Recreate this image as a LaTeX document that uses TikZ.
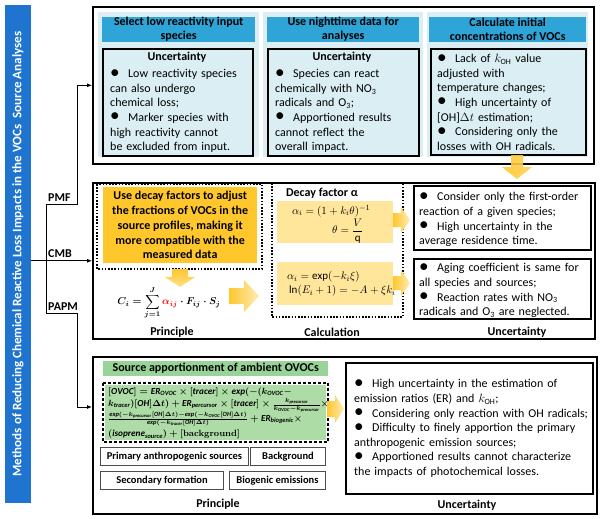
\documentclass[tikz,border=0pt]{standalone}
\usepackage{amsmath}
\usepackage{amssymb}
\usepackage{fontspec}
\setmainfont{Carlito}
\usepackage{tikz}
\usetikzlibrary{calc}
\usetikzlibrary{arrows.meta}
\usepackage{xcolor}

\definecolor{barblue}{HTML}{1E74CF}
\definecolor{paleblue}{HTML}{DAEEF3}
\definecolor{headblue}{HTML}{2FA4D7}
\definecolor{gold}{HTML}{FFC72C}
\definecolor{palegold}{HTML}{FFE69A}
\definecolor{headgreen}{HTML}{98D497}
\definecolor{palegreen}{HTML}{AEDCA6}

\newcommand{\dotitem}[1]{\par\noindent\hangindent=18pt\hangafter=1\makebox[18pt][l]{\smash{\raisebox{-0.4pt}{\scalebox{1.6}{\textbullet}}}}#1}
\newcommand{\vn}[1]{\mathit{#1}}
\newcommand{\decaysum}{$\displaystyle C_i=\sum_{j=1}^{J}\textcolor{red}{\alpha_{ij}}\cdot F_{ij}\cdot S_j$}

\tikzset{
  frame/.style={draw, line width=1.6pt, inner sep=0, anchor=north west},
  plain/.style={inner sep=0, anchor=north west},
  dotframe/.style={draw, line width=1.6pt, dash pattern=on 1.6pt off 1.6pt},
  txt/.style={inner sep=0, anchor=north west, text width=#1, align=left, font=\fontsize{12}{14.6}\selectfont},
  bold/.style={inner sep=0, font=\fontsize{12}{14.6}\selectfont\bfseries},
  eq/.style={inner sep=0, anchor=west, font=\fontsize{11}{13}\selectfont},
  link/.style={line width=0.8pt, -{Latex[length=5pt,width=4pt]}},
  goldshade/.style={left color=gold, right color=gold!35},
  tag/.style={draw=black!70, line width=1pt, fill=white, inner sep=0, anchor=north west, minimum height=18, font=\fontsize{10.5}{12}\selectfont\bfseries}
}

\begin{document}
\begin{tikzpicture}[x=1pt,y=-1pt]
\useasboundingbox (0,0) rectangle (600,519);

\node[fill=barblue, rotate=90, minimum width=498, minimum height=26, inner sep=0, text=white, font=\fontsize{13}{15}\selectfont\bfseries] (title) at (18,254) {Methods of Reducing Chemical Reactive Loss Impacts in the VOCs\ \ Source Analyses};

\node[frame, minimum width=501, minimum height=157] (pmfbox) at (92,6) {};
\node[frame, minimum width=502, minimum height=156] (cmbbox) at (92,182) {};
\node[frame, minimum width=504, minimum height=157] (papmbox) at (92,356) {};

\coordinate (root) at (title.south |- cmbbox.west);
\coordinate (jp) at (46,204);
\coordinate (ja) at (46,313);
\coordinate (pin) at ($(papmbox.north west)+(0,51)$);
\draw[line width=0.8pt] (jp) -- (ja);
\draw[link] (root) -- (cmbbox.west);
\draw[link] (jp) -| ([xshift=-15pt]pmfbox.west) -- (pmfbox.west);
\draw[link] (ja) -| ([xshift=-15pt]pin) -- (pin);
\node[bold, anchor=south west, inner sep=2pt] at (jp) {PMF};
\node[bold, anchor=south west, inner sep=2pt] at (46,260) {CMB};
\node[bold, anchor=south west, inner sep=2pt] at (ja) {PAPM};

\node[plain, fill=paleblue, minimum width=161, minimum height=145] (lowpanel) at (98,12) {};
\node[plain, fill=paleblue, minimum width=160, minimum height=145] (nightpanel) at (263,12) {};
\node[plain, fill=paleblue, minimum width=161, minimum height=145] (initpanel) at (427,12) {};
\node[plain, fill=headblue, minimum width=153, minimum height=25] (lowhead) at (102,17) {};
\node[plain, fill=headblue, minimum width=152, minimum height=25] (nighthead) at (267,17) {};
\node[plain, fill=headblue, minimum width=157, minimum height=25] (inithead) at (429,17) {};
\node[bold, align=center, font=\fontsize{12}{14}\selectfont\bfseries] at (lowhead.center) {Select low reactivity input\\species};
\node[bold, align=center, font=\fontsize{12}{14}\selectfont\bfseries] at (nighthead.center) {Use nighttime data for\\analyses};
\node[bold, align=center, font=\fontsize{12}{14}\selectfont\bfseries] at (inithead.center) {Calculate initial\\concentrations of VOCs};

\node[frame, minimum width=150, minimum height=107] (lowunc) at (102,48) {};
\node[frame, minimum width=151, minimum height=107] (nightunc) at (267,48) {};
\node[frame, minimum width=155, minimum height=106] (initunc) at (430,48) {};
\node[bold] at (177,57) {Uncertainty};
\node[bold] at (342,57) {Uncertainty};
\node[txt=140] at (110,63) {\dotitem{Low reactivity species\\can also undergo\\chemical loss;}\dotitem{Marker species with\\high reactivity cannot\\be excluded from input.}};
\node[txt=142] at (275,63) {\dotitem{Species can react\\chemically with NO\textsubscript{3}\\radicals and O\textsubscript{3};}\dotitem{Apportioned results\\cannot reflect the\\overall impact.}};
\node[txt=150] at (437,48) {\dotitem{Lack of $k_{\mathrm{OH}}$ value\\adjusted with\\temperature changes;}\dotitem{High uncertainty of\\{[OH]}$\Delta t$ estimation;}\dotitem{Considering only the\\losses with OH radicals.}};

\path[left color=gold, right color=gold!80, opacity=0.9] (511,155) -- (523,155) -- (523,167) -- (532,167) -- (517,179) -- (502,167) -- (511,167) -- cycle;

\draw[dotframe] (97,184) rectangle (262,269);
\node[plain, fill=gold, minimum width=154, minimum height=76] (decaybox) at (103,187) {};
\node[bold, align=center, font=\fontsize{12}{14.7}\selectfont\bfseries] at (decaybox.center) {Use decay factors to adjust\\the fractions of VOCs in the\\source profiles, making it\\more compatible with the\\measured data};
\path[top color=gold, bottom color=gold!55] (172,269) -- (188,269) -- (188,277) -- (195,277) -- (180,287) -- (165,277) -- (172,277) -- cycle;
\node[inner sep=0, font=\boldmath] (sumeq) at (169,303) {\decaysum};
\path[goldshade] (229,288) -- (244,288) -- (244,280) -- (259,296) -- (244,312) -- (244,304) -- (229,304) -- cycle;
\node[bold] at (172,332) {Principle};

\draw[dotframe] (272,183) rectangle (403,317);
\node[bold] at (322,193) {Decay factor α};
\node[plain, fill=palegold, minimum width=116, minimum height=42] (cstrbox) at (277,201) {};
\node[plain, fill=palegold, minimum width=116, minimum height=43] (ageqbox) at (277,262) {};
\node[eq] at (292,211) {$\alpha_i=(1+k_i\theta)^{-1}$};
\node[eq] at (332,231) {$\theta=\dfrac{V}{\mathrm{q}}$};
\node[eq] at (287,277) {$\alpha_i=\exp(-k_i\xi)$};
\node[eq] at (289,291) {$\ln(E_i+1)=-A+\xi k_i$};
\path[goldshade] (393,213) -- (401,213) -- (401,207) -- (410,220) -- (401,233) -- (401,227) -- (393,227) -- cycle;
\path[goldshade] (393,276) -- (401,276) -- (401,270) -- (410,283) -- (401,296) -- (401,290) -- (393,290) -- cycle;
\node[bold] at (332,332) {Calculation};

\node[frame, minimum width=177, minimum height=64] (cstrunc) at (413,185) {};
\node[frame, minimum width=177, minimum height=60] (ageunc) at (413,258) {};
\node[txt=172] at (419,186) {\dotitem{Consider only the first-order\\reaction of a given species;}\dotitem{High uncertainty in the\\average residence time.}};
\node[txt=172] at (419,257) {\dotitem{Aging coefficient is same for\\all species and sources;}\dotitem{Reaction rates with NO\textsubscript{3}\\radicals and O\textsubscript{3} are neglected.}};
\node[bold] at (517,332) {Uncertainty};

\node[plain, fill=headgreen, minimum width=225, minimum height=15] (ovochead) at (103,361) {};
\node[bold] at (ovochead.center) {Source apportionment of ambient OVOCs};
\fill[palegreen] (105,385) rectangle (326,440);
\draw[line width=1.3pt, dash pattern=on 3pt off 2pt] (103,383) rectangle (328,442);
\begin{scope}[every node/.style={inner sep=0, anchor=west, font=\fontsize{9.2}{10}\selectfont\boldmath}]
\node at (108,392) {$[\vn{OVOC}]=\vn{ER}_{\vn{OVOC}}\times[\vn{tracer}]\times \vn{exp}(-(k_{\vn{OVOC}}-$};
\node at (108,405) {$k_{\vn{tracer}})[\vn{OH}]\Delta t)+\vn{ER}_{\vn{percursor}}\times[\vn{tracer}]\times\frac{k_{\vn{precursor}}}{k_{\vn{OVOC}}-k_{\vn{precursor}}}\times$};
\node at (108,419) {$\frac{\vn{exp}(-k_{\vn{precursor}}[\vn{OH}]\Delta t)-\vn{exp}(-k_{\vn{OVOC}}[\vn{OH}]\Delta t)}{\vn{exp}(-k_{\vn{tracer}}[\vn{OH}]\Delta t)}+\vn{ER}_{\vn{biogenic}}\times$};
\node at (108,434) {$(\vn{isoprene}_{\vn{source}})+[\mathbf{background}]$};
\end{scope}
\node[tag, minimum width=148] (primtag) at (100,447) {Primary anthropogenic sources};
\node[tag, minimum width=75] (bgtag) at (250,447) {Background};
\node[tag, minimum width=123] (sectag) at (100,471) {Secondary formation};
\node[tag, minimum width=96] (biotag) at (229,471) {Biogenic emissions};
\node[bold] at (218,504) {Principle};
\path[goldshade] (327,401) -- (335,401) -- (335,395) -- (344,409) -- (335,423) -- (335,417) -- (327,417) -- cycle;

\node[frame, minimum width=247, minimum height=131] (ovocunc) at (345,362) {};
\node[txt=240] at (354,373) {\dotitem{High uncertainty in the estimation of\\emission ratios (ER) and $k_{\mathrm{OH}}$;}\dotitem{Considering only reaction with OH radicals;}\dotitem{Difficulty to finely apportion the primary\\anthropogenic emission sources;}\dotitem{Apportioned results cannot characterize\\the impacts of photochemical losses.}};
\node[bold] at (467,505) {Uncertainty};
\end{tikzpicture}
\end{document}
